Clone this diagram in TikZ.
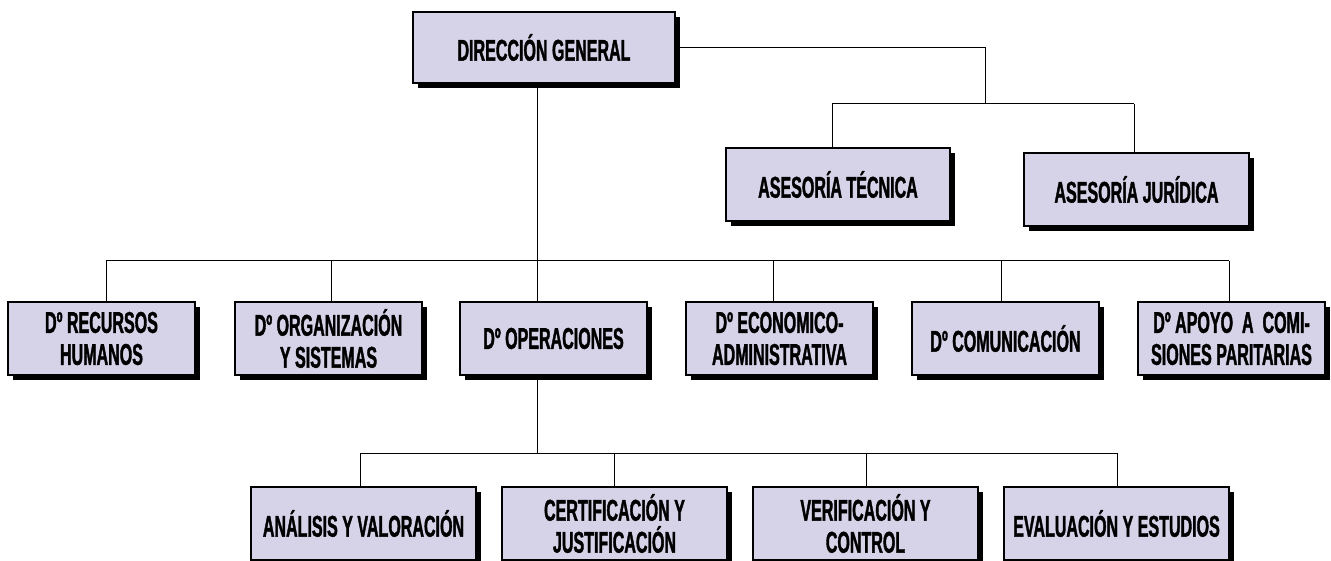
\documentclass[tikz,border=0pt]{standalone}
\usepackage{fontspec}
\setmainfont{Liberation Sans}[FakeStretch=0.535, FakeBold=1.2]
\usetikzlibrary{shadows}
\definecolor{boxfill}{RGB}{214,210,232}
\begin{document}
\begin{tikzpicture}[x=1pt,y=-1pt,
  orgbox/.style={draw=black, line width=1.6pt, fill=boxfill,
    general shadow={fill=black, shadow xshift=5pt, shadow yshift=-5pt},
    align=center, inner sep=0pt,
    font=\bfseries\fontsize{30}{32}\selectfont,
    minimum width=187pt, minimum height=73pt},
  link/.style={line width=1pt, draw=black}]
\useasboundingbox (0,0) rectangle (1331,561);

% top
\node[orgbox, minimum width=262pt, minimum height=71pt] (dg) at (544,47.5) {DIRECCIÓN GENERAL};
\node[orgbox, minimum width=224pt] (at) at (838,184.5) {ASESORÍA TÉCNICA};
\node[orgbox, minimum width=225pt] (aj) at (1136.5,189.5) {ASESORÍA JURÍDICA};

% level 2
\node[orgbox] (rh) at (101.5,338.5) {Dº RECURSOS\\HUMANOS};
\node[orgbox] (os) at (328.5,338.5) {Dº ORGANIZACIÓN\\Y SISTEMAS};
\node[orgbox] (op) at (553.5,338.5) {Dº OPERACIONES};
\node[orgbox] (ea) at (779.5,338.5) {Dº ECONOMICO-\\ADMINISTRATIVA};
\node[orgbox] (co) at (1005.5,338.5) {Dº COMUNICACIÓN};
\node[orgbox] (ap) at (1231.5,338.5) {Dº APOYO~ A~ COMI-\\SIONES PARITARIAS};

% level 3
\node[orgbox, minimum width=225pt] (an) at (363.5,523.5) {ANÁLISIS Y VALORACIÓN};
\node[orgbox, minimum width=225pt] (ce) at (614.5,523.5) {CERTIFICACIÓN Y\\JUSTIFICACIÓN};
\node[orgbox, minimum width=225pt] (ve) at (865.5,523.5) {VERIFICACIÓN Y\\CONTROL};
\node[orgbox, minimum width=225pt] (ev) at (1116.5,523.5) {EVALUACIÓN Y ESTUDIOS};

% connectors: advisory
\coordinate (tb) at (985,104);
\coordinate (tl) at (832,104);
\coordinate (tr) at (1134,104);
\draw[link] (dg.east) -| (tb);
\draw[link] (tl) -- (tr);
\draw[link] (tl) -- (tl |- at.north);
\draw[link] (tr) -- (tr |- aj.north);

% connectors: level 2
\coordinate (b0) at (537,261);
\coordinate (bl) at (106,261);
\coordinate (br) at (1229,261);
\draw[link] (dg.south -| b0) -- (b0);
\draw[link] (bl) -- (br);
\draw[link] (bl) -- (bl |- rh.north);
\draw[link] (331,261) coordinate (b2) -- (b2 |- os.north);
\draw[link] (b0) -- (b0 |- op.north);
\draw[link] (773,261) coordinate (b4) -- (b4 |- ea.north);
\draw[link] (1001,261) coordinate (b5) -- (b5 |- co.north);
\draw[link] (br) -- (br |- ap.north);

% connectors: level 3
\coordinate (c0) at (537,453);
\coordinate (cl) at (360,453);
\coordinate (cr) at (1117,453);
\draw[link] (op.south -| c0) -- (c0);
\draw[link] (cl) -- (cr);
\draw[link] (cl) -- (cl |- an.north);
\draw[link] (614,453) coordinate (c2) -- (c2 |- ce.north);
\draw[link] (866,453) coordinate (c3) -- (c3 |- ve.north);
\draw[link] (cr) -- (cr |- ev.north);
\end{tikzpicture}
\end{document}
